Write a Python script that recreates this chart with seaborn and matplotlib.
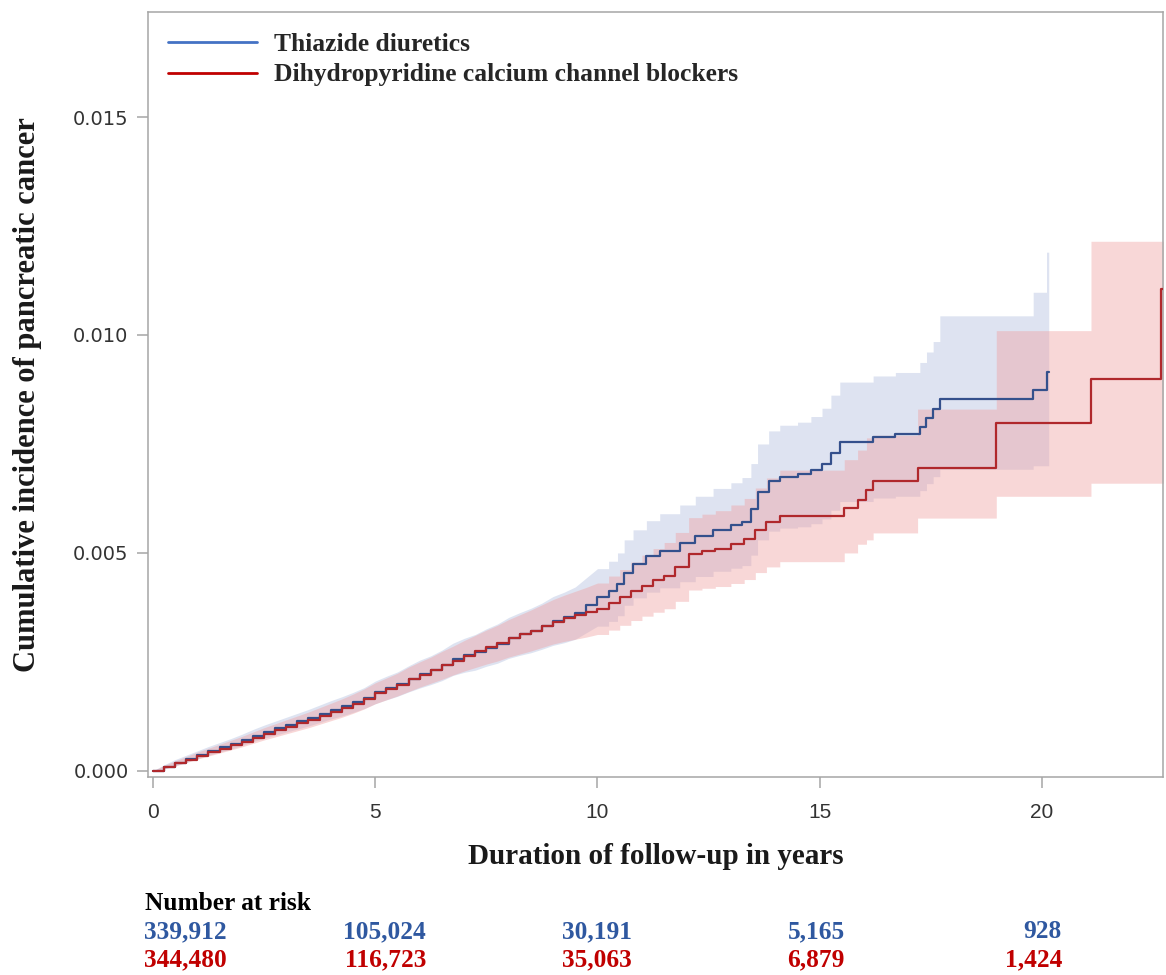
import numpy as np
import pandas as pd
import matplotlib
matplotlib.use("Agg")
import matplotlib.pyplot as plt
import seaborn as sns
from matplotlib.lines import Line2D

# ---------------- data ----------------
groups = ["Thiazide diuretics", "Dihydropyridine calcium channel blockers"]

thz_t = [0.00, 0.25, 0.50, 0.75, 1.00, 1.25, 1.50, 1.75, 2.00, 2.25, 2.50, 2.75,
         3.00, 3.25, 3.50, 3.75, 4.00, 4.25, 4.50, 4.75, 5.00, 5.25, 5.50, 5.75,
         6.00, 6.25, 6.50, 6.75, 7.00, 7.25, 7.50, 7.75, 8.00, 8.25, 8.50, 8.75,
         9.00, 9.25, 9.50, 9.75, 10.00, 10.25, 10.45, 10.60, 10.80, 11.10, 11.40,
         11.85, 12.20, 12.60, 13.00, 13.25, 13.45, 13.60, 13.85, 14.10, 14.50,
         14.80, 15.05, 15.25, 15.45, 16.20, 16.70, 17.25, 17.40, 17.55, 17.70,
         19.80, 20.10, 20.15]
thz_ci = [0.00000, 0.00009, 0.00019, 0.00028, 0.00037, 0.00046, 0.00054, 0.00062,
          0.00071, 0.00081, 0.00090, 0.00098, 0.00106, 0.00114, 0.00122, 0.00131,
          0.00140, 0.00148, 0.00157, 0.00167, 0.00180, 0.00190, 0.00199, 0.00211,
          0.00222, 0.00231, 0.00242, 0.00256, 0.00265, 0.00272, 0.00283, 0.00292,
          0.00305, 0.00314, 0.00322, 0.00332, 0.00344, 0.00352, 0.00362, 0.00380,
          0.00398, 0.00412, 0.00428, 0.00455, 0.00475, 0.00492, 0.00505, 0.00522,
          0.00538, 0.00553, 0.00563, 0.00572, 0.00600, 0.00640, 0.00665, 0.00675,
          0.00680, 0.00690, 0.00705, 0.00730, 0.00755, 0.00766, 0.00772, 0.00790,
          0.00810, 0.00830, 0.00853, 0.00874, 0.00915, 0.00915]
thz_lo = [0.00000, 0.00005, 0.00012, 0.00020, 0.00028, 0.00036, 0.00043, 0.00050,
          0.00058, 0.00067, 0.00075, 0.00082, 0.00089, 0.00096, 0.00103, 0.00111,
          0.00119, 0.00126, 0.00134, 0.00143, 0.00154, 0.00163, 0.00171, 0.00181,
          0.00190, 0.00198, 0.00207, 0.00219, 0.00226, 0.00231, 0.00240, 0.00247,
          0.00258, 0.00265, 0.00271, 0.00279, 0.00288, 0.00294, 0.00302, 0.00317,
          0.00332, 0.00343, 0.00356, 0.00380, 0.00397, 0.00410, 0.00420, 0.00434,
          0.00446, 0.00458, 0.00465, 0.00471, 0.00495, 0.00530, 0.00550, 0.00557,
          0.00560, 0.00567, 0.00578, 0.00598, 0.00618, 0.00626, 0.00630, 0.00643,
          0.00659, 0.00675, 0.00692, 0.00700, 0.00700, 0.00700]
thz_hi = [0.00000, 0.00014, 0.00026, 0.00036, 0.00046, 0.00056, 0.00065, 0.00074,
          0.00084, 0.00095, 0.00105, 0.00114, 0.00123, 0.00132, 0.00141, 0.00151,
          0.00161, 0.00170, 0.00180, 0.00191, 0.00206, 0.00217, 0.00227, 0.00241,
          0.00254, 0.00264, 0.00277, 0.00293, 0.00304, 0.00313, 0.00326, 0.00337,
          0.00352, 0.00363, 0.00373, 0.00385, 0.00400, 0.00410, 0.00422, 0.00443,
          0.00464, 0.00481, 0.00500, 0.00530, 0.00553, 0.00574, 0.00590, 0.00610,
          0.00630, 0.00648, 0.00661, 0.00673, 0.00705, 0.00750, 0.00780, 0.00793,
          0.00800, 0.00813, 0.00832, 0.00862, 0.00892, 0.00906, 0.00914, 0.00937,
          0.00961, 0.00985, 0.01044, 0.01098, 0.01190, 0.01190]

ccb_t = [0.00, 0.25, 0.50, 0.75, 1.00, 1.25, 1.50, 1.75, 2.00, 2.25, 2.50, 2.75,
         3.00, 3.25, 3.50, 3.75, 4.00, 4.25, 4.50, 4.75, 5.00, 5.25, 5.50, 5.75,
         6.00, 6.25, 6.50, 6.75, 7.00, 7.25, 7.50, 7.75, 8.00, 8.25, 8.50, 8.75,
         9.00, 9.25, 9.50, 9.75, 10.00, 10.25, 10.50, 10.75, 11.00, 11.25, 11.50,
         11.75, 12.05, 12.35, 12.65, 13.00, 13.30, 13.55, 13.80, 14.10, 15.55,
         15.85, 16.05, 16.20, 17.20, 18.97, 21.10, 22.68, 22.75]
ccb_ci = [0.00000, 0.00008, 0.00017, 0.00026, 0.00035, 0.00043, 0.00051, 0.00059,
          0.00067, 0.00076, 0.00085, 0.00093, 0.00101, 0.00109, 0.00117, 0.00126,
          0.00135, 0.00144, 0.00154, 0.00165, 0.00178, 0.00188, 0.00198, 0.00210,
          0.00221, 0.00231, 0.00242, 0.00253, 0.00264, 0.00274, 0.00284, 0.00293,
          0.00304, 0.00313, 0.00322, 0.00332, 0.00342, 0.00350, 0.00357, 0.00364,
          0.00372, 0.00385, 0.00398, 0.00412, 0.00425, 0.00437, 0.00448, 0.00468,
          0.00498, 0.00504, 0.00510, 0.00520, 0.00532, 0.00552, 0.00570, 0.00585,
          0.00604, 0.00622, 0.00645, 0.00665, 0.00695, 0.00798, 0.00900, 0.01105,
          0.01105]
ccb_lo = [0.00000, 0.00005, 0.00011, 0.00019, 0.00027, 0.00034, 0.00041, 0.00048,
          0.00055, 0.00063, 0.00071, 0.00078, 0.00085, 0.00092, 0.00099, 0.00107,
          0.00115, 0.00123, 0.00132, 0.00142, 0.00154, 0.00163, 0.00172, 0.00182,
          0.00192, 0.00201, 0.00210, 0.00220, 0.00229, 0.00237, 0.00245, 0.00252,
          0.00261, 0.00268, 0.00275, 0.00283, 0.00291, 0.00297, 0.00302, 0.00307,
          0.00313, 0.00323, 0.00334, 0.00345, 0.00355, 0.00364, 0.00372, 0.00389,
          0.00415, 0.00419, 0.00423, 0.00430, 0.00439, 0.00455, 0.00468, 0.00480,
          0.00500, 0.00520, 0.00530, 0.00546, 0.00580, 0.00630, 0.00660, 0.00660,
          0.00660]
ccb_hi = [0.00000, 0.00012, 0.00023, 0.00033, 0.00043, 0.00052, 0.00061, 0.00070,
          0.00079, 0.00089, 0.00099, 0.00108, 0.00117, 0.00126, 0.00135, 0.00145,
          0.00155, 0.00165, 0.00176, 0.00188, 0.00202, 0.00213, 0.00224, 0.00238,
          0.00250, 0.00261, 0.00274, 0.00286, 0.00299, 0.00311, 0.00323, 0.00334,
          0.00347, 0.00358, 0.00369, 0.00381, 0.00393, 0.00403, 0.00412, 0.00421,
          0.00431, 0.00447, 0.00462, 0.00479, 0.00495, 0.00510, 0.00524, 0.00547,
          0.00581, 0.00589, 0.00597, 0.00610, 0.00625, 0.00649, 0.00672, 0.00690,
          0.00714, 0.00736, 0.00764, 0.00770, 0.00830, 0.01010, 0.01215, 0.01215,
          0.01215]

risk_years = [0, 5, 10, 15, 20]
risk_thz = [339912, 105024, 30191, 5165, 928]
risk_ccb = [344480, 116723, 35063, 6879, 1424]

x_ticks = [0, 5, 10, 15, 20]
y_ticks = [0.000, 0.005, 0.010, 0.015]

# ---------------- styling ----------------
line_cols = ["#34508c", "#b0282c"]
legend_cols = ["#4472c4", "#c00000"]
band_cols = ["#c3cde6", "#f0a0a0"]
band_alpha = [0.55, 0.42]
table_cols = ["#2f58a0", "#c00000"]
spine_col = "#a6a6a6"
serif = ["Liberation Serif", "DejaVu Serif"]
SMOOTH_UNTIL = 10.0   # band drawn as smooth envelope before this time, steps after

sns.set_theme(style="white")
plt.rcParams["font.family"] = ["DejaVu Sans"]

W, H = 1166, 975
fig = plt.figure(figsize=(W / 100, H / 100), dpi=100)
ax = fig.add_axes([148 / W, 198 / H, 1015 / W, 765 / H])

frames = []
for g, t, ci, lo, hi in [(groups[0], thz_t, thz_ci, thz_lo, thz_hi),
                         (groups[1], ccb_t, ccb_ci, ccb_lo, ccb_hi)]:
    frames.append(pd.DataFrame({"group": g, "t": t, "ci": ci, "lo": lo, "hi": hi}))
df = pd.concat(frames, ignore_index=True)


def band_path(d):
    """Smooth envelope early, step-shaped envelope later."""
    tt, ll, hh = [], [], []
    ts, ls, hs = d["t"].to_numpy(), d["lo"].to_numpy(), d["hi"].to_numpy()
    for k in range(len(ts)):
        if k > 0 and ts[k] > SMOOTH_UNTIL:
            tt.append(ts[k]); ll.append(ls[k - 1]); hh.append(hs[k - 1])
        tt.append(ts[k]); ll.append(ls[k]); hh.append(hs[k])
    return tt, ll, hh


for i, g in enumerate(groups):
    d = df[df["group"] == g]
    tt, ll, hh = band_path(d)
    ax.fill_between(tt, ll, hh, color=band_cols[i], alpha=band_alpha[i],
                    lw=0, zorder=1)

for i, g in enumerate(groups):
    d = df[df["group"] == g]
    sns.lineplot(data=d, x="t", y="ci", ax=ax, color=line_cols[i], lw=1.6,
                 drawstyle="steps-post", estimator=None, sort=False,
                 legend=False, zorder=3)

ax.set_xlim(-0.11, 22.72)
ax.set_ylim(-0.00014, 0.01741)
ax.set_xticks(x_ticks)
ax.set_yticks(y_ticks)
ax.set_yticklabels([f"{v:.3f}" for v in y_ticks])
ax.set_xticklabels([str(v) for v in x_ticks])

for s in ax.spines.values():
    s.set_color(spine_col)
    s.set_linewidth(1.1)
ax.tick_params(axis="both", which="major", direction="out", length=8,
               width=1.1, color=spine_col, labelcolor="#333333", bottom=True, left=True)
ax.tick_params(axis="y", labelsize=14, pad=6)
ax.tick_params(axis="x", labelsize=15, pad=11)
for lab in ax.get_xticklabels():
    lab.set_family(["Liberation Sans", "DejaVu Sans"])

ax.set_xlabel("Duration of follow-up in years", fontsize=21, fontweight="bold",
              family=serif, color="#1a1a1a")
ax.set_ylabel("Cumulative incidence of pancreatic cancer", fontsize=22,
              fontweight="bold", family=serif, color="#1a1a1a")
ax.xaxis.set_label_coords(0.5, -0.086)
ax.yaxis.set_label_coords(-0.104, 0.5)

handles = [Line2D([], [], color=legend_cols[i], lw=2) for i in range(2)]
ax.legend(handles, groups, loc="upper left", bbox_to_anchor=(0.0197, 0.9725),
          frameon=False, borderpad=0, borderaxespad=0, handlelength=3.5,
          handletextpad=0.65, labelspacing=0.29,
          prop={"family": serif, "weight": "bold", "size": 18.4})

# Number at risk table
fig.text(145 / W, 1 - 903 / H, "Number at risk", ha="left", va="center",
         fontsize=18.3, fontweight="bold", family=serif, color="black")
right_edges = [227, 426, 632, 845, 1062]
for row, (vals, ypx) in enumerate([(risk_thz, 932), (risk_ccb, 960)]):
    for j, v in enumerate(vals):
        fig.text(right_edges[j] / W, 1 - ypx / H, f"{v:,}", ha="right", va="center",
                 fontsize=18.3, fontweight="bold", family=serif, color=table_cols[row])

fig.savefig("out.png", dpi=100)
